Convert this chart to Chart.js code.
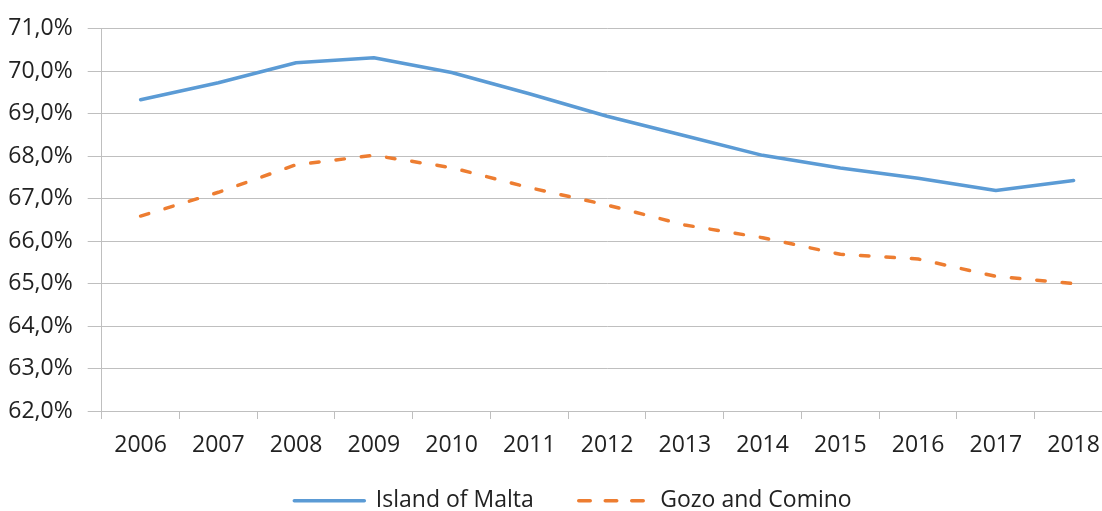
<!DOCTYPE html>
<html>
<head>
<meta charset="utf-8">
<script src="https://cdn.jsdelivr.net/npm/chart.js@4.4.0/dist/chart.umd.min.js"></script>
<style>
html, body { margin: 0; padding: 0; background: #ffffff; overflow: hidden; width: 1102px; height: 511px; }
canvas { display: block; }
</style>
</head>
<body>
<canvas id="chart" width="1147" height="511"></canvas>
<script>
// ---- data ----
const years = ['2006','2007','2008','2009','2010','2011','2012','2013','2014','2015','2016','2017','2018'];
const maltaValues = [69.33, 69.73, 70.20, 70.32, 69.97, 69.47, 68.94, 68.48, 68.02, 67.72, 67.48, 67.19, 67.43];
const gozoValues  = [66.59, 67.15, 67.80, 68.02, 67.73, 67.26, 66.85, 66.38, 66.08, 65.69, 65.58, 65.17, 65.00];
const seriesNames = ['Island of Malta', 'Gozo and Comino'];
const yMin = 62, yMax = 71, yStep = 1;

const FONT = { family: '"Open Sans", sans-serif', size: 23 };
const TEXT = '#222222';
const GRID = '#bfbfbf';

// places the bottom legend where the original one sits
const legendPlacer = {
  id: 'legendPlacer',
  afterLayout(chart) {
    const lg = chart.legend;
    if (!lg) return;
    const dx = 16.75;
    lg.left += dx; lg.right += dx;
    const h = lg.bottom - lg.top;
    lg.top = 444.2; lg.bottom = lg.top + h;
  }
};

new Chart(document.getElementById('chart'), {
  type: 'line',
  plugins: [legendPlacer],
  data: {
    labels: years,
    datasets: [
      {
        label: seriesNames[0],
        data: maltaValues,
        borderColor: '#5B9BD5',
        backgroundColor: '#5B9BD5',
        borderWidth: 3.5,
        pointRadius: 0,
        pointStyle: 'line',
        tension: 0,
        borderCapStyle: 'round',
        borderJoinStyle: 'round'
      },
      {
        label: seriesNames[1],
        data: gozoValues,
        borderColor: '#ED7D31',
        backgroundColor: '#ED7D31',
        borderWidth: 3.5,
        borderDash: [8.5, 17],
        borderCapStyle: 'round',
        borderJoinStyle: 'round',
        pointRadius: 0,
        pointStyle: 'line',
        tension: 0
      }
    ]
  },
  options: {
    responsive: false,
    animation: false,
    devicePixelRatio: 1,
    layout: { padding: { left: 0, right: 34.5, top: 27.5, bottom: -39.6 } },
    plugins: {
      tooltip: { enabled: false },
      legend: {
        position: 'bottom',
        labels: {
          usePointStyle: true,
          pointStyleWidth: 70,
          boxHeight: 20,
          padding: 45,
          color: TEXT,
          font: FONT,
          generateLabels: (chart) => {
            const items = Chart.defaults.plugins.legend.labels.generateLabels(chart);
            items.forEach((it) => {
              const ds = chart.data.datasets[it.datasetIndex];
              it.lineWidth = ds.borderWidth;
              it.strokeStyle = ds.borderColor;
              it.lineDash = ds.borderDash ? [11.5, 15] : [];
              it.lineCap = 'round';
              it.pointStyle = 'line';
            });
            return items;
          }
        }
      }
    },
    scales: {
      x: {
        offset: true,
        grid: { display: true, offset: true, drawOnChartArea: false, drawTicks: true, tickLength: 8, color: GRID, lineWidth: 1 },
        border: { display: true, color: GRID, width: 1 },
        ticks: { color: TEXT, font: FONT, padding: 13, maxRotation: 0, autoSkip: false }
      },
      y: {
        min: yMin,
        max: yMax,
        afterFit: (s) => { s.width = 101.7; },
        grid: { color: GRID, lineWidth: 1, tickLength: 14, drawTicks: true },
        border: { display: true, color: GRID, width: 1 },
        ticks: {
          stepSize: yStep,
          color: TEXT,
          font: FONT,
          padding: 15,
          callback: (v) => v.toFixed(1).replace('.', ',') + '%'
        }
      }
    }
  }
});
</script>
</body>
</html>
